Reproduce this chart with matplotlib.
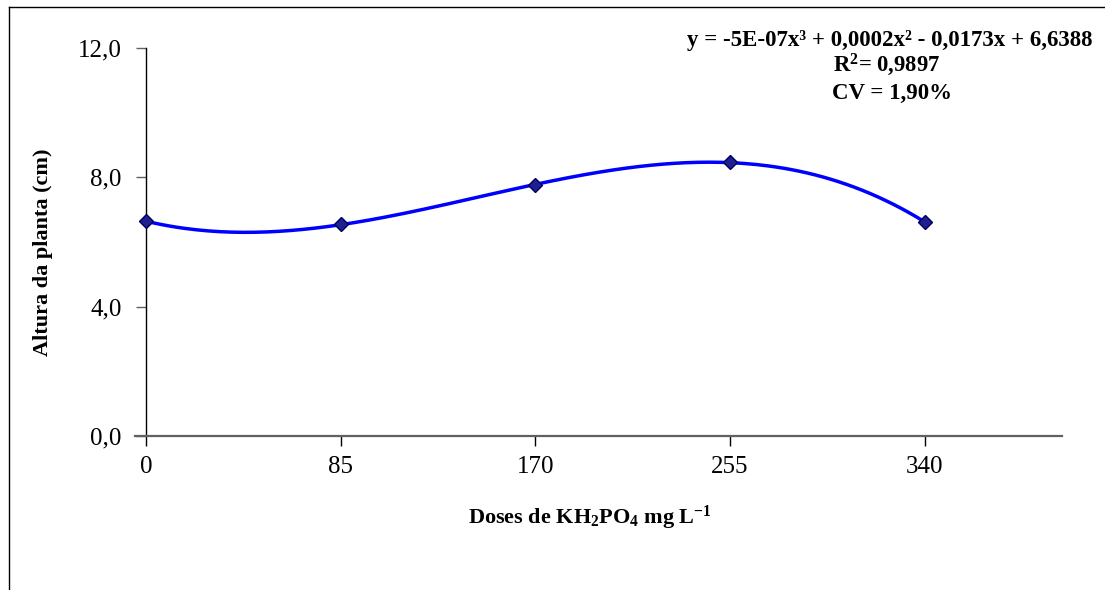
import numpy as np
import matplotlib
matplotlib.use("Agg")
import matplotlib.pyplot as plt
from matplotlib.lines import Line2D

# Data
doses = [0, 85, 170, 255, 340]
altura = [6.64, 6.55, 7.76, 8.47, 6.62]
x_ticks = [0, 85, 170, 255, 340]
y_ticks = [0, 4, 8, 12]
y_tick_labels = ["0,0", "4,0", "8,0", "12,0"]
eq_text = "y = -5E-07x³ + 0,0002x² - 0,0173x + 6,6388"
r2_text = "R$^{2}$= 0,9897"
cv_text = "CV = 1,90%"

plt.rcParams['font.family'] = ['Liberation Serif', 'DejaVu Serif']
plt.rcParams['mathtext.fontset'] = 'custom'
plt.rcParams['mathtext.rm'] = 'Liberation Serif:bold'
plt.rcParams['mathtext.default'] = 'regular'

fig = plt.figure(figsize=(11.05, 5.90), dpi=100)
ax = fig.add_axes([0.1222, 0.261, 0.9611 - 0.1222, 0.9186 - 0.261])

# polynomial trendline (3rd order) fitted to the data
coef = np.polyfit(doses, altura, 3)
xs = np.linspace(0, 340, 200)
ax.plot(xs, np.polyval(coef, xs), color='#0000FF', lw=2.5, zorder=2)
ax.plot(doses, altura, linestyle='none', marker='D', markersize=7,
        markerfacecolor='#1F1F8F', markeredgecolor='#000060', zorder=3)

ax.set_xlim(-4.8, 400)
ax.set_ylim(0, 12)
ax.spines['left'].set_position(('data', 0))
ax.spines['right'].set_visible(False)
ax.spines['top'].set_visible(False)
ax.spines['left'].set_color('black')
ax.spines['left'].set_linewidth(1.0)
ax.spines['bottom'].set_color('#606060')
ax.spines['bottom'].set_linewidth(1.6)

ax.set_xticks(x_ticks)
ax.set_xticklabels([str(v) for v in x_ticks])
ax.set_yticks(y_ticks)
ax.set_yticklabels(y_tick_labels)
ax.tick_params(axis='x', direction='out', length=7.5, width=1.0, color='black',
               labelsize=18, pad=7)
ax.tick_params(axis='y', direction='out', length=7.5, width=1.0, color='#606060',
               labelsize=18, pad=10)

fig.text(0.039, 0.573, "Altura da planta (cm)", rotation=90, ha='center', va='center',
         fontsize=16, fontweight='bold')
fig.text(0.534, 0.122, "Doses de KH$_{2}$PO$_{4}$ mg L$^{-1}$", ha='center', va='center',
         fontsize=16, fontweight='bold')

fig.text(0.8054, 0.932, eq_text, ha='center', va='center', fontsize=16.5, fontweight='bold')
fig.text(0.8020, 0.890, r2_text, ha='center', va='center', fontsize=16.3, fontweight='bold')
fig.text(0.8072, 0.842, cv_text, ha='center', va='center', fontsize=16.5, fontweight='bold')

# outer frame (left and top visible)
fig.add_artist(Line2D([9 / 1105, 9 / 1105], [0, 1 - 7 / 590], transform=fig.transFigure,
                      color='black', lw=1.0))
fig.add_artist(Line2D([9 / 1105, 1], [1 - 7 / 590, 1 - 7 / 590], transform=fig.transFigure,
                      color='black', lw=1.0))

fig.savefig("out.png", dpi=100)
